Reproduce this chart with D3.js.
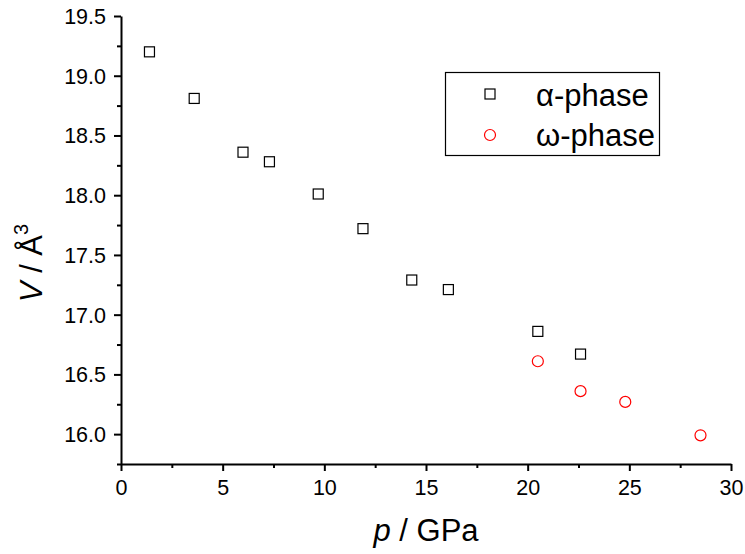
<!DOCTYPE html>
<html>
<head>
<meta charset="utf-8">
<script src="https://cdn.jsdelivr.net/npm/d3@7"></script>
<style>
  body { margin: 0; background: #fff; }
  svg { font-family: "Liberation Sans", Arial, sans-serif; }
</style>
</head>
<body>
<svg id="chart"></svg>
<script>
// alpha-phase (pressure GPa, volume A^3)
var alphaP = [1.4, 3.6, 6.0, 7.3, 9.7, 11.9, 14.3, 16.1, 20.5, 22.6];
var alphaV = [19.2, 18.81, 18.36, 18.28, 18.01, 17.72, 17.29, 17.21, 16.86, 16.67];
// omega-phase
var omegaP = [20.5, 22.6, 24.8, 28.5];
var omegaV = [16.61, 16.36, 16.27, 15.99];

var xTicks = [0, 5, 10, 15, 20, 25, 30];
var yTicks = [16.0, 16.5, 17.0, 17.5, 18.0, 18.5, 19.0, 19.5];

var width = 745, height = 554;
var margin = {top: 16, right: 14, bottom: 90, left: 121};

var svg = d3.select("#chart")
    .attr("width", width)
    .attr("height", height);

var x = d3.scaleLinear().domain([0, 30]).range([margin.left, width - margin.right]);
var y = d3.scaleLinear().domain([15.75, 19.5]).range([height - margin.bottom, margin.top]);

// minor ticks first
svg.append("g")
    .attr("transform", "translate(0," + y(15.75) + ")")
    .call(d3.axisBottom(x).tickValues(d3.range(2.5, 30, 5)).tickSize(4).tickFormat(""))
    .call(function(g) { g.select(".domain").remove(); })
    .selectAll("line").attr("stroke-width", 2);
svg.append("g")
    .attr("transform", "translate(" + x(0) + ",0)")
    .call(d3.axisLeft(y).tickValues(d3.range(15.75, 19.5, 0.5)).tickSize(4).tickFormat(""))
    .call(function(g) { g.select(".domain").remove(); })
    .selectAll("line").attr("stroke-width", 2);

var xAxis = svg.append("g")
    .attr("transform", "translate(0," + y(15.75) + ")")
    .call(d3.axisBottom(x).tickValues(xTicks).tickSize(7).tickSizeOuter(0).tickPadding(9).tickFormat(d3.format("d")));
var yAxis = svg.append("g")
    .attr("transform", "translate(" + x(0) + ",0)")
    .call(d3.axisLeft(y).tickValues(yTicks).tickSize(7).tickSizeOuter(0).tickPadding(8).tickFormat(d3.format(".1f")));

[xAxis, yAxis].forEach(function(g) {
  g.select(".domain").attr("stroke-width", 2);
  g.selectAll(".tick line").attr("stroke-width", 2);
  g.selectAll("text").attr("font-size", 21.5).attr("fill", "#000")
    .attr("font-family", "'Liberation Sans', Arial, sans-serif");
});
yAxis.selectAll("text").attr("dy", "0.35em");

// axis titles
svg.append("text")
    .attr("x", (x(0) + x(30)) / 2)
    .attr("y", 541)
    .attr("text-anchor", "middle")
    .attr("font-size", 31)
    .html('<tspan font-style="italic">p</tspan> / GPa');

svg.append("text")
    .attr("transform", "translate(42,263) rotate(-90)")
    .attr("text-anchor", "middle")
    .attr("font-size", 31)
    .html('<tspan font-style="italic">V</tspan> / Å<tspan font-size="20" dy="-14">3</tspan>');

// data
var alpha = alphaP.map(function(p, i) { return {p: p, v: alphaV[i]}; });
var omega = omegaP.map(function(p, i) { return {p: p, v: omegaV[i]}; });

svg.selectAll(".alpha")
    .data(alpha)
  .enter().append("rect")
    .attr("class", "alpha")
    .attr("x", function(d) { return x(d.p) - 5; })
    .attr("y", function(d) { return y(d.v) - 5; })
    .attr("width", 10)
    .attr("height", 10)
    .attr("fill", "none")
    .attr("stroke", "#000")
    .attr("stroke-width", 1.2);

svg.selectAll(".omega")
    .data(omega)
  .enter().append("circle")
    .attr("class", "omega")
    .attr("cx", function(d) { return x(d.p); })
    .attr("cy", function(d) { return y(d.v); })
    .attr("r", 5.5)
    .attr("fill", "none")
    .attr("stroke", "#ff0000")
    .attr("stroke-width", 1.2);

// legend
var legend = svg.append("g");
legend.append("rect")
    .attr("x", 445.5).attr("y", 72.5)
    .attr("width", 214).attr("height", 83)
    .attr("fill", "#fff").attr("stroke", "#000").attr("stroke-width", 1.2);
legend.append("rect")
    .attr("x", 485).attr("y", 89).attr("width", 10).attr("height", 10)
    .attr("fill", "none").attr("stroke", "#000").attr("stroke-width", 1.2);
legend.append("circle")
    .attr("cx", 490).attr("cy", 135).attr("r", 5.5)
    .attr("fill", "none").attr("stroke", "#ff0000").attr("stroke-width", 1.2);
legend.append("text")
    .attr("x", 536).attr("y", 106).attr("font-size", 31).text("α-phase");
legend.append("text")
    .attr("x", 536).attr("y", 146).attr("font-size", 31).text("ω-phase");
</script>
</body>
</html>
